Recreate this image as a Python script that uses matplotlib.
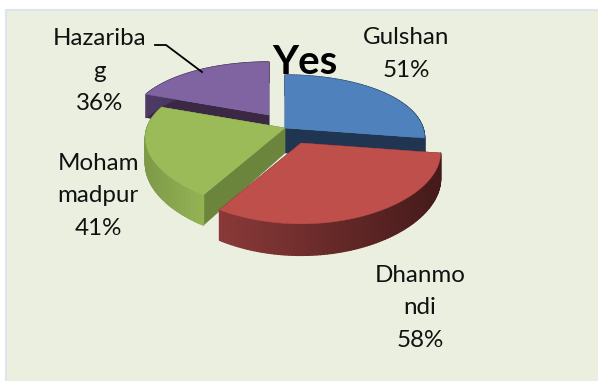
import numpy as np
import matplotlib
matplotlib.use("Agg")
import matplotlib.pyplot as plt
from matplotlib.colors import to_rgb
from matplotlib.patches import Polygon, Rectangle

plt.rcParams['font.family'] = ['Lato', 'DejaVu Sans']

names = ["Gulshan", "Dhanmondi", "Mohammadpur", "Hazaribag"]
values = [51, 58, 41, 36]
labels = ["Gulshan\n51%", "Dhanmo\nndi\n58%", "Moham\nmadpur\n41%", "Hazariba\ng\n36%"]
label_pos = [(406, 54), (420, 308), (98, 196), (100, 71)]

top_cols = ["#4F81BD", "#BE4F4B", "#9BBB59", "#8064A2"]
cut_cols = ["#1F3552", "#4A1D1C", "#6B853C", "#3A2845"]
# outer wall colour at the left and right end of each slice
wall_left = ["#2F4D72", "#8A3A38", "#7E9A48", "#4D3A66"]
wall_right = ["#1F3552", "#451A1A", "#94B354", "#3A2845"]
shift = [(0, 0), (16, 15), (0, 0), (-16, -13)]
draw_order = [0, 3, 2, 1]

cx, cy = 285, 128
rx, ry = 138, 64
persp_x, persp_y = 0.15, 0.208
depth = 25


def project(a, r=1.0):
    # a is clockwise from 12 o'clock, in degrees
    u = r * np.sin(np.radians(a))
    v = -r * np.cos(np.radians(a))
    wy = 1 - persp_y * v
    return rx * u / (1 - persp_x * v), ry * v / wy, depth / wy


fig = plt.figure(figsize=(5.98, 3.81), dpi=100, facecolor="white")
ax = fig.add_axes([0, 0, 1, 1])
ax.set_xlim(0, 598)
ax.set_ylim(381, 0)
ax.axis("off")

ax.add_patch(Rectangle((6, 10), 600, 380, facecolor="#EBEFDF", edgecolor="#DCE6F1", lw=1.5))

bounds = np.concatenate([[0], np.cumsum(values)]) / sum(values) * 360

for i in draw_order:
    a0, a1 = bounds[i], bounds[i + 1]
    ox, oy = cx + shift[i][0], cy + shift[i][1]
    ang = np.linspace(a0, a1, 90)
    px, py, pd = project(ang)
    px = px + ox
    py = py + oy

    # the two flat cut faces
    for k in (0, -1):
        cut = [(ox, oy), (px[k], py[k]), (px[k], py[k] + pd[k]), (ox, oy + depth)]
        ax.add_patch(Polygon(cut, facecolor=cut_cols[i], edgecolor=cut_cols[i], lw=0.3))

    # outer wall in thin strips so the shade can change across it
    cl, cr = np.array(to_rgb(wall_left[i])), np.array(to_rgb(wall_right[i]))
    for j in range(len(ang) - 1):
        t = (px[j] - px.min()) / (px.max() - px.min())
        c = cl + (cr - cl) * t
        strip = [(px[j], py[j]), (px[j + 1], py[j + 1]),
                 (px[j + 1], py[j + 1] + pd[j + 1]), (px[j], py[j] + pd[j])]
        ax.add_patch(Polygon(strip, facecolor=c, edgecolor=c, lw=1.0, joinstyle="round"))

    top = [(ox, oy)] + list(zip(px, py))
    ax.add_patch(Polygon(top, facecolor=top_cols[i], edgecolor=top_cols[i], lw=0.3))

ax.plot([155, 166, 202], [45, 45, 72], color="black", lw=1.3)

for txt, (x, y) in zip(labels, label_pos):
    ax.text(x, y, txt, ha="center", va="center", fontsize=17.4, color="#111111", linespacing=1.68)

ax.text(305, 62, "Yes", ha="center", va="center", fontsize=29, fontweight="bold", color="black")

fig.savefig("out.png", dpi=100)
